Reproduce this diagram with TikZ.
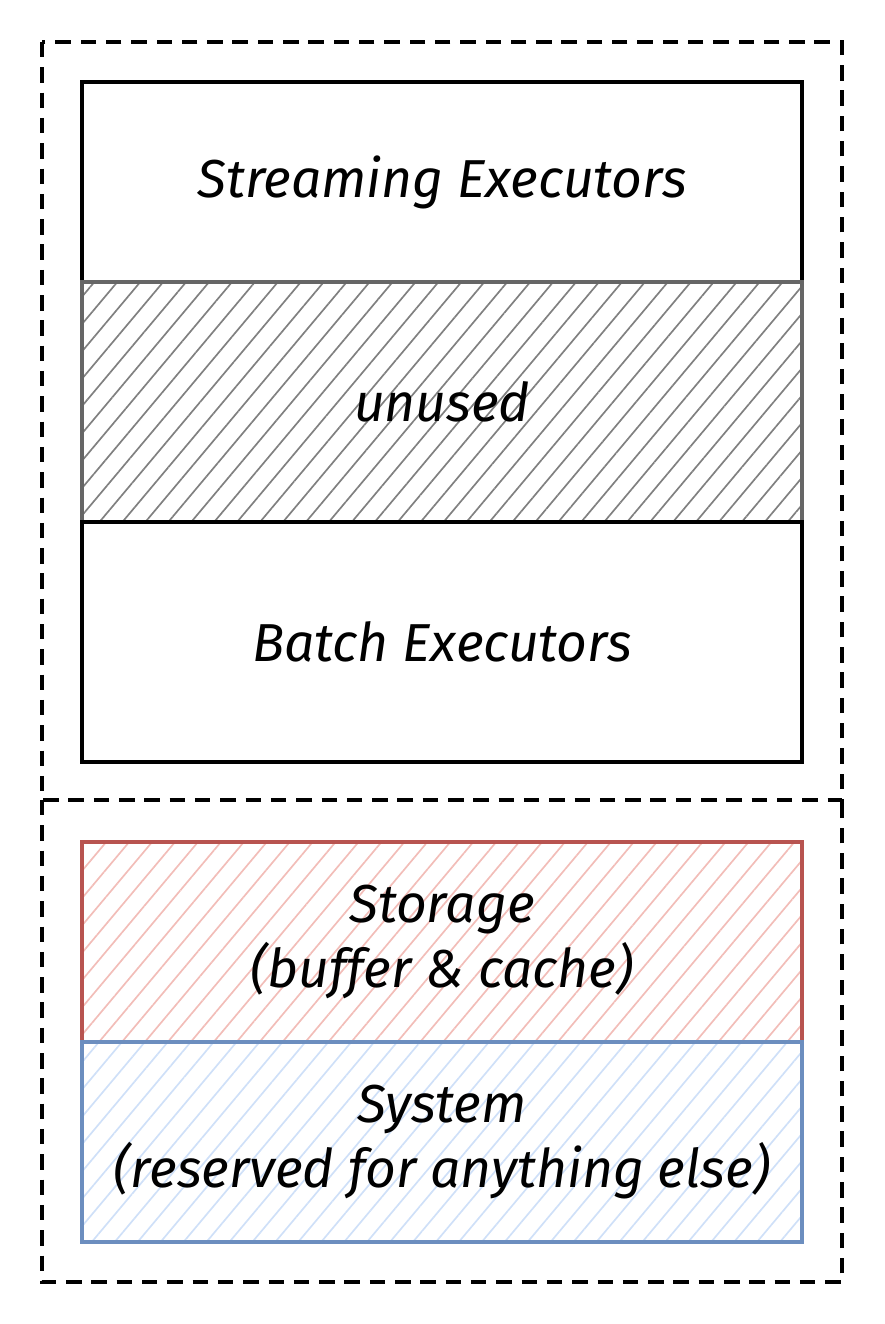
\documentclass[tikz,border=0pt]{standalone}
\usepackage{fontspec}
\setmainfont{Fira Sans}
\usetikzlibrary{positioning,patterns.meta}

\definecolor{unusedline}{HTML}{666666}
\definecolor{unusedhatch}{HTML}{808080}
\definecolor{storageline}{HTML}{B85450}
\definecolor{storagehatch}{HTML}{F2BDB8}
\definecolor{systemline}{HTML}{6C8EBF}
\definecolor{systemhatch}{HTML}{CFE0F8}

\tikzset{
  layer/.style={draw, line width=2.8pt, minimum width=18cm, outer sep=0pt,
    align=center, font=\fontsize{38}{46}\selectfont\itshape},
  hatch/.style={pattern={Lines[angle=50,distance=12.5pt,line width=1.2pt]}, pattern color=#1},
  group/.style={draw, line width=2.4pt, dash pattern=on 11pt off 7pt},
}

\begin{document}
\begin{tikzpicture}
  \useasboundingbox (0,0) rectangle (22.1,-33.1);
  % executors and the memory between them
  \node[layer, minimum height=5cm] (stream) at (11.05,-4.55) {Streaming Executors};
  \node[layer, minimum height=6cm, draw=unusedline, hatch=unusedhatch, below=0pt of stream] (unused) {unused};
  \node[layer, minimum height=6cm, below=0pt of unused] (batch) {Batch Executors};
  % reserved part
  \node[layer, minimum height=5cm, draw=storageline, hatch=storagehatch] (storage) at (11.05,-23.55) {Storage\\(buffer \& cache)};
  \node[layer, minimum height=5cm, draw=systemline, hatch=systemhatch, below=0pt of storage] (system) {System\\(reserved for anything else)};
  % dashed groups
  \draw[group] (1.05,-1.05) rectangle (21.05,-20);
  \draw[group] (1.05,-20) -- (1.05,-32.05) -- (21.05,-32.05) -- (21.05,-20);
\end{tikzpicture}
\end{document}
